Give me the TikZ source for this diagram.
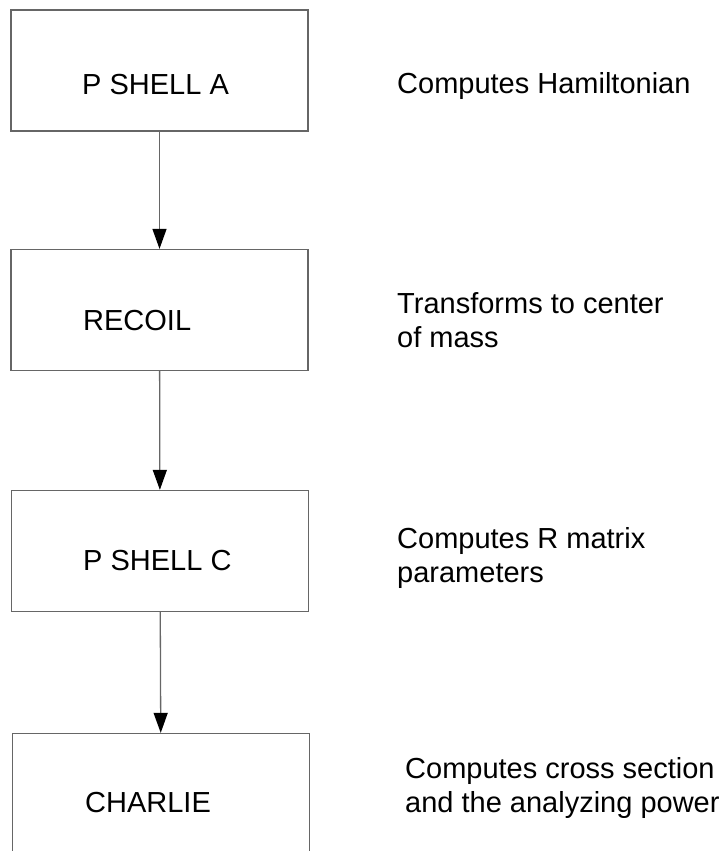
\documentclass[tikz,border=0pt]{standalone}
\usepackage{fontspec}
\setmainfont{Liberation Sans}
\usepackage{tikz}
\usetikzlibrary{arrows.meta, positioning}

\begin{document}
\begin{tikzpicture}[
    x=1pt, y=-1pt,
    box/.style={
        rectangle,
        minimum width=297pt,
        minimum height=121pt,
        inner sep=0pt,
        draw=black!60,
        line width=1.3pt
    },
    lbl/.style={
        anchor=base west,
        inner sep=0pt,
        font=\fontsize{29}{34}\selectfont
    },
    desc/.style={
        anchor=base west,
        inner sep=0pt,
        align=left,
        font=\fontsize{29}{34}\selectfont
    },
    arrow/.style={
        -{Triangle[length=20pt, width=14pt, color=black]},
        draw=black!60,
        line width=1.3pt
    }
]
\useasboundingbox (0,0) rectangle (720,851);

% Program boxes
\node[box] (pshella) at (159.5,70.5) {};
\node[box] (recoil)  at (159.5,310)  {};
\node[box] (pshellc) at (160,551)    {};
\node[box] (charlie) at (161,794)    {};

% Box labels
\node[lbl] (pshella-t) at (82,95)  {P SHELL A};
\node[lbl] (recoil-t)  at (83,330) {RECOIL};
\node[lbl] (pshellc-t) at (83,570) {P SHELL C};
\node[lbl] (charlie-t) at (85,812) {CHARLIE};

% Descriptions (base = last line)
\node[desc] (pshella-d) at (397,93)  {Computes Hamiltonian};
\node[desc] (recoil-d)  at (397,347) {Transforms to center\\of mass};
\node[desc] (pshellc-d) at (397,582) {Computes R matrix\\parameters};
\node[desc] (charlie-d) at (405,812) {Computes cross section\\and the analyzing power};

% Arrows
\draw[arrow] (pshella) -- (recoil);
\draw[arrow] (recoil)  -- (pshellc);
\draw[arrow] (pshellc) -- (charlie);

\end{tikzpicture}
\end{document}
